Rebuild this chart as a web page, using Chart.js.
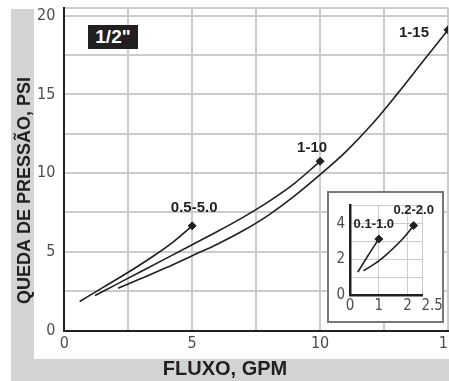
<!DOCTYPE html>
<html>
<head>
<meta charset="utf-8">
<script src="https://cdn.jsdelivr.net/npm/chart.js@4.4.1/dist/chart.umd.min.js"></script>
<style>
  html, body { margin: 0; padding: 0; overflow: hidden; background: #fff; width: 449px; height: 381px; }
  #frame { position: absolute; left: 11px; top: 9px; width: 460px; height: 372px; background: #d1d3d4; }
  #panel { position: absolute; left: 34px; top: 0; width: 440px; height: 359px; background: #fff; }
  #main { position: absolute; left: 0; top: 0; }
  #tag { position: absolute; left: 88px; top: 25px; width: 50px; height: 24px; background: #231f20; color: #fff;
         font: bold 19px 'Liberation Sans', Arial, sans-serif; line-height: 24px; text-align: center; }
  #insetBox { position: absolute; left: 327px; top: 191px; width: 117px; height: 132px; box-sizing: border-box;
              border: 2px solid #77787b; background: #fff; }
  #inset { position: absolute; left: 0; top: 0; }
</style>
</head>
<body>
<div id="frame"></div>
<div id="panel"></div>
<canvas id="main" width="453" height="381"></canvas>
<div id="tag">1/2"</div>
<div id="insetBox"><canvas id="inset" width="113" height="128"></canvas></div>
<script>
// Pressure drop (psi) against flow (gpm) for each meter range
const mainSeries = ['0.5-5.0', '1-10', '1-15'];
const flowA = [0.6, 1.5, 2.5, 3.5, 4.25, 5.0];
const dropA = [1.84, 2.72, 3.7, 4.75, 5.62, 6.65];
const flowB = [1.2, 2, 3, 4, 5, 6, 7, 8, 9, 10];
const dropB = [2.22, 2.9, 3.75, 4.6, 5.45, 6.3, 7.2, 8.2, 9.35, 10.75];
const flowC = [2.1, 3, 4, 5, 6, 7, 8, 9, 10, 11, 12, 13, 14, 15];
const dropC = [2.68, 3.3, 4.0, 4.75, 5.5, 6.35, 7.35, 8.55, 9.9, 11.35, 13.05, 15.0, 17.05, 19.1];

// Low-flow ranges shown in the small panel
const insetSeries = ['0.1-1.0', '0.2-2.0'];
const flowD = [0.27, 0.6, 1.0];
const dropD = [1.29, 2.15, 3.14];
const flowE = [0.47, 1.0, 1.35, 1.8, 2.21];
const dropE = [1.37, 1.92, 2.4, 3.1, 3.89];

const mainXLabels = [0, 5, 10, 15];
const mainYLabels = [0, 5, 10, 15, 20];
const insetXLabels = [0, 1, 2, 2.5];
const insetYLabels = [0, 2, 4];

const INK = '#231f20';
const GRID = '#cbcccd';
const TICK = '#4d4d4f';
const BOLD = "'Liberation Sans', Arial, sans-serif";
const NARROW = "'Liberation Sans Narrow', 'DejaVu Sans Condensed', sans-serif";

const pairs = (xs, ys) => xs.map((x, i) => ({ x, y: ys[i] }));
const endMarker = c => (c.dataIndex === c.dataset.data.length - 1 ? 4 : 0);

function curve(label, xs, ys) {
  return {
    label, data: pairs(xs, ys), showLine: true, borderColor: INK, borderWidth: 1.6,
    cubicInterpolationMode: 'monotone', pointStyle: 'rectRot', pointRadius: endMarker,
    pointBackgroundColor: INK, pointBorderColor: INK, pointBorderWidth: 1
  };
}

// Writes each series name next to its last point
const endLabels = {
  id: 'endLabels',
  afterDatasetsDraw(chart, args, opts) {
    const ctx = chart.ctx;
    ctx.save();
    ctx.font = opts.font;
    ctx.fillStyle = INK;
    ctx.textAlign = 'center';
    ctx.textBaseline = 'middle';
    chart.data.datasets.forEach((ds, i) => {
      const pts = chart.getDatasetMeta(i).data;
      const p = pts[pts.length - 1];
      const off = opts.offsets[i];
      ctx.fillText(ds.label, p.x + off[0], p.y + off[1]);
    });
    ctx.restore();
  }
};

function gridTicks(max, step, extra) {
  const t = [];
  for (let v = 0; v <= max + 1e-9; v += step) t.push({ value: +v.toFixed(3) });
  if (extra !== undefined) t.push({ value: extra });
  return t;
}

new Chart(document.getElementById('main'), {
  type: 'scatter',
  data: { datasets: [curve(mainSeries[0], flowA, dropA), curve(mainSeries[1], flowB, dropB), curve(mainSeries[2], flowC, dropC)] },
  plugins: [endLabels],
  options: {
    responsive: false, animation: false, events: [],
    layout: { padding: { left: 0, right: 3, top: 0, bottom: 0 } },
    scales: {
      x: {
        type: 'linear', min: 0, max: 15,
        afterBuildTicks: s => { s.ticks = gridTicks(15, 2.5); },
        afterFit: s => { s.height = 26.5; s.paddingLeft = 0; s.paddingRight = 0; },
        grid: { color: GRID, lineWidth: 2, drawTicks: false },
        border: { display: true, color: INK, width: 2 },
        ticks: {
          padding: 4, color: TICK, font: { family: NARROW, size: 16 },
          autoSkip: false, maxRotation: 0,
          callback: v => (mainXLabels.includes(v) ? String(v) : '')
        }
      },
      y: {
        type: 'linear', min: 0, max: 20.5,
        afterBuildTicks: s => { s.ticks = gridTicks(20, 2.5, 20.5); },
        afterFit: s => { s.width = 28.5; s.paddingTop = 7.8; s.paddingBottom = 0; },
        grid: { color: GRID, lineWidth: 2, drawTicks: false },
        border: { display: true, color: INK, width: 2 },
        ticks: {
          padding: 9, color: TICK, font: { family: NARROW, size: 16 }, autoSkip: false,
          callback: v => (mainYLabels.includes(v) ? String(v) : '')
        }
      }
    },
    plugins: {
      legend: { display: false },
      tooltip: { enabled: false },
      title: {
        display: true, position: 'left', text: 'QUEDA DE PRESSÃO, PSI', color: INK,
        font: { family: BOLD, size: 18, weight: 'bold' }, padding: { top: 14.2, bottom: 0 }
      },
      subtitle: {
        display: true, position: 'bottom', text: 'FLUXO, GPM', color: INK,
        font: { family: BOLD, size: 20, weight: 'bold' }, padding: { top: 0, bottom: 0 }
      },
      endLabels: { font: `bold 15px ${BOLD}`, offsets: [[2, -18], [-8, -13], [-34, 3]] }
    }
  }
});

new Chart(document.getElementById('inset'), {
  type: 'scatter',
  data: { datasets: [curve(insetSeries[0], flowD, dropD), curve(insetSeries[1], flowE, dropE)] },
  plugins: [endLabels],
  options: {
    responsive: false, animation: false, events: [],
    layout: { padding: { left: 0, right: 20, top: 0, bottom: 0 } },
    scales: {
      x: {
        type: 'linear', min: 0, max: 2.5,
        afterBuildTicks: s => { s.ticks = gridTicks(2, 1, 2.5); },
        afterFit: s => { s.height = 25.7; s.paddingLeft = 0; s.paddingRight = 0; },
        grid: { color: GRID, lineWidth: 1, drawTicks: false },
        border: { display: true, color: INK, width: 2.5 },
        ticks: {
          padding: 2, color: TICK, font: { family: NARROW, size: 15 }, autoSkip: false, maxRotation: 0,
          callback: v => (insetXLabels.includes(v) ? (v === 2.5 ? '\u2002\u2002\u20022.5' : String(v)) : '')
        }
      },
      y: {
        type: 'linear', min: 0, max: 5,
        afterBuildTicks: s => { s.ticks = gridTicks(5, 1); },
        afterFit: s => { s.width = 21; s.paddingTop = 12.7; s.paddingBottom = 0; },
        grid: { color: GRID, lineWidth: 1, drawTicks: false },
        border: { display: true, color: INK, width: 2.5 },
        ticks: {
          padding: 5, color: TICK, font: { family: NARROW, size: 15 }, autoSkip: false,
          callback: v => (insetYLabels.includes(v) ? String(v) : '')
        }
      }
    },
    plugins: {
      legend: { display: false },
      tooltip: { enabled: false },
      endLabels: { font: `bold 13px ${BOLD}`, offsets: [[-5, -15], [0, -15]] }
    }
  }
});
</script>
</body>
</html>
